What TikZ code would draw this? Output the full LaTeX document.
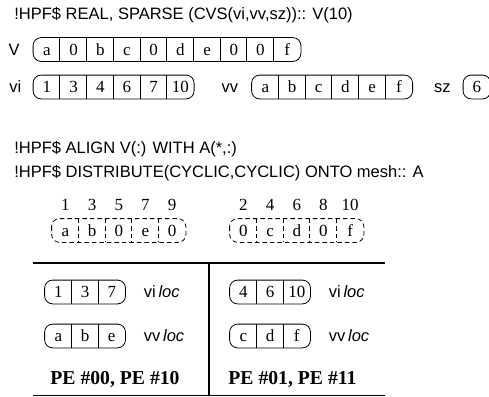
\documentclass[tikz,border=0pt]{standalone}
\usepackage{fontspec}
\setmainfont{Liberation Serif}
\setsansfont{Liberation Sans}
\usetikzlibrary{positioning}

\newcommand{\codefont}{\sffamily\fontsize{16.5}{19}\selectfont}
\newcommand{\cellfont}{\rmfamily\fontsize{17}{19}\selectfont}
\newcommand{\pefont}{\rmfamily\bfseries\fontsize{19.7}{22}\selectfont}

% a row of boxed cells: [style]{name}{west point}{number of cells}{entries}
\newcommand{\cellrow}[5][solid]{%
  \foreach \v [count=\i] in {#5}
    \node[cell, xshift={(\i-0.5)*26.7pt}] (#2-\i) at (#3) {\v};
  \draw[rounded corners=8pt, #1] (#2-1.north west) rectangle (#2-#4.south east);
  \ifnum#4>1
    \foreach \i in {2,...,#4}
      \draw[#1] (#2-\i.north west) -- (#2-\i.south west);
  \fi
}

\begin{document}
\begin{tikzpicture}[x=1pt,y=-1pt,line width=0.8pt,
    cell/.style={inner sep=0pt,minimum width=26.7pt,minimum height=23pt,
      text height=11.5pt,text depth=0pt,font=\cellfont},
    code/.style={anchor=base west,inner sep=0pt,font=\codefont},
    lbl/.style={inner sep=0pt,text height=11.8pt,text depth=0pt,font=\codefont},
    num/.style={inner sep=0pt,font=\cellfont},
    pe/.style={anchor=base west,inner sep=0pt,font=\pefont},
    dash box/.style={dash pattern=on 4.5pt off 3pt}]
  \useasboundingbox (0,0) rectangle (489,396);

  \node[code] (decl) at (14,19.5) {!HPF\$ REAL, SPARSE (CVS(vi,vv,sz)):: V(10)};

  \cellrow{V}{33.5,49.5}{10}{a,0,b,c,0,d,e,0,0,f}
  \cellrow{vi}{33.5,87}{6}{1,3,4,6,7,10}
  \cellrow{vv}{252,87}{6}{a,b,c,d,e,f}
  \cellrow{sz}{463.5,87}{1}{6}
  \node[lbl,left=13pt of V-1] (Vlab) {V};
  \node[lbl,left=11.5pt of vi-1] (vilab) {vi};
  \node[lbl,left=13pt of vv-1] (vvlab) {vv};
  \node[lbl,left=12pt of sz-1] (szlab) {sz};

  \node[code] (align) at (14,153) {!HPF\$ ALIGN V(:) WITH A(*,:)};
  \node[code] (dist) at (14,177) {!HPF\$ DISTRIBUTE(CYCLIC,CYCLIC) ONTO mesh:: A};

  \cellrow[dash box]{dl}{52,230.5}{5}{a,b,0,e,0}
  \cellrow[dash box]{dr}{230,230.5}{5}{0,c,d,0,f}
  \foreach \n [count=\i] in {1,3,5,7,9}
    \node[num,above=8pt of dl-\i] (nl-\i) {\n};
  \foreach \n [count=\i] in {2,4,6,8,10}
    \node[num,above=8pt of dr-\i] (nr-\i) {\n};

  % processor table
  \coordinate (tl) at (33,263);
  \coordinate (tr) at (385,263);
  \coordinate (mt) at (209,263);
  \coordinate (mb) at (209,396);
  \coordinate (bl) at (33,395.3);
  \coordinate (br) at (385,395.3);
  \draw[line width=2.2pt] (tl) -- (tr);
  \draw[line width=1.6pt] (mt) -- (mb);
  \draw (bl) -- (br);

  \cellrow{lvi}{45,292}{3}{1,3,7}
  \cellrow{lvv}{45,336}{3}{a,b,e}
  \cellrow{rvi}{230,292}{3}{4,6,10}
  \cellrow{rvv}{230,336}{3}{c,d,f}
  \node[lbl,right=18pt of lvi-3] (lvilab) {vi\,\textit{loc}};
  \node[lbl,right=18pt of lvv-3] (lvvlab) {vv\,\textit{loc}};
  \node[lbl,right=18pt of rvi-3] (rvilab) {vi\,\textit{loc}};
  \node[lbl,right=18pt of rvv-3] (rvvlab) {vv\,\textit{loc}};

  \node[pe] (peleft) at (50,384) {PE \#00, PE \#10};
  \node[pe] (peright) at (228,384) {PE \#01, PE \#11};
\end{tikzpicture}
\end{document}
